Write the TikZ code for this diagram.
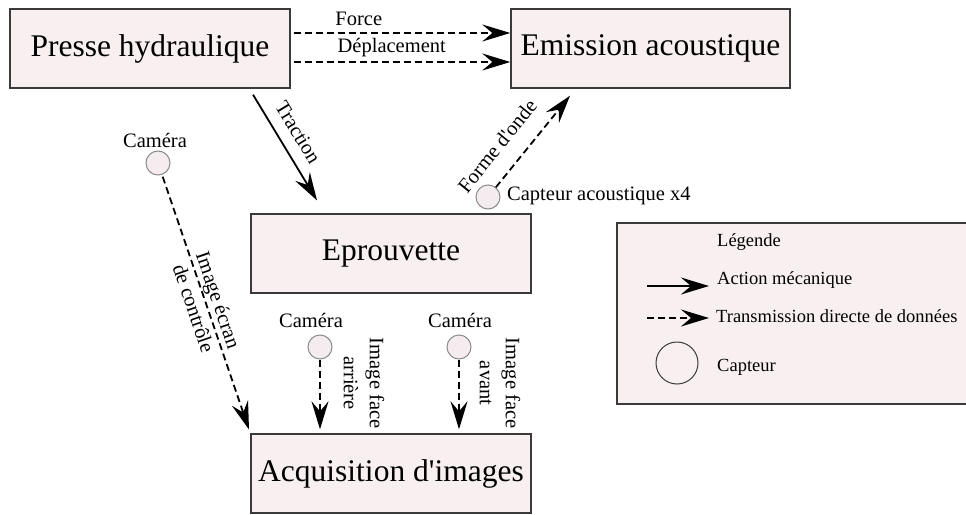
\documentclass[tikz,border=0pt]{standalone}
\usepackage{fontspec}
\setmainfont{Liberation Serif}
\usetikzlibrary{arrows.meta}
\definecolor{boxfill}{HTML}{F8F0F0}
\definecolor{circfill}{HTML}{F4ECEE}
\definecolor{boxline}{HTML}{3A3A3A}
\definecolor{circline}{HTML}{8A8A8A}
\newcommand{\bigtxt}{\fontsize{31.5}{36}\selectfont}
\newcommand{\smalltxt}{\fontsize{20.5}{26}\selectfont}
\newcommand{\legtxt}{\fontsize{18.5}{22}\selectfont}
\begin{document}
\begin{tikzpicture}[x=1pt,y=-1pt,
  box/.style={draw=boxline, line width=1.4pt, fill=boxfill, inner sep=0pt, font=\bigtxt},
  sensor/.style={circle, draw=circline, line width=1pt, fill=circfill, minimum size=24pt, inner sep=0pt},
  mech/.style={line width=1.8pt, -{Stealth[length=28pt,width=17pt,inset=10pt]}},
  data/.style={mech, dash pattern=on 7pt off 4pt},
  lab/.style={font=\smalltxt, align=center, anchor=center, sloped, allow upside down, inner sep=0pt},
  smalllab/.style={font=\smalltxt, inner sep=0pt},
  leglab/.style={font=\legtxt, inner sep=0pt, anchor=west}]
\useasboundingbox (0,0) rectangle (966,514);
\clip (0,0) rectangle (966,514);
% boxes
\node[box, minimum width=280pt, minimum height=79pt] (presse) at (150,48.5) {Presse hydraulique};
\node[box, minimum width=279pt, minimum height=79pt] (emission) at (650.5,48.5) {Emission acoustique};
\node[box, minimum width=280pt, minimum height=79pt] (eprouvette) at (391,253.5) {Eprouvette};
\node[box, minimum width=280pt, minimum height=79pt] (acq) at (391,473.5) {Acquisition d\textquotesingle images};
\node[box, minimum width=351pt, minimum height=181pt] (legend) at (792.5,313.5) {};
% sensors
\node[sensor] (cam1) at (158,163) {};
\node[smalllab] (cam1l) at (155,140) {Caméra};
\node[sensor] (cam2) at (320,347) {};
\node[smalllab] (cam2l) at (311,320) {Caméra};
\node[sensor] (cam3) at (459,347) {};
\node[smalllab] (cam3l) at (460,320) {Caméra};
\node[sensor] (capt) at (488,197) {};
\node[smalllab, anchor=west] (captl) at (507,196) {Capteur acoustique x4};
% connectors
\draw[data, shorten <=3pt] ([yshift=15.5pt]presse.east) -- node[lab, pos=0.31, yshift=14pt] {Force} ([yshift=15.5pt]emission.west);
\draw[data, shorten <=3pt] ([yshift=-13.5pt]presse.east) -- node[lab, pos=0.46, yshift=14pt] {Déplacement} ([yshift=-13.5pt]emission.west);
\draw[mech, shorten <=7pt, shorten >=15pt] ([xshift=99.4pt]presse.south) -- node[lab, pos=0.43, yshift=19pt] {Traction} ([xshift=-66.2pt]eprouvette.north);
\draw[data, shorten <=2pt, shorten >=4pt] (cam1) -- node[lab, pos=0.5] {Image écran\\de contrôle} (acq.north west);
\draw[data, shorten >=4pt] (cam2) -- node[lab, pos=0.32, yshift=44pt] {Image face\\arrière} (cam2 |- acq.north);
\draw[data, shorten >=4pt] (cam3) -- node[lab, pos=0.32, yshift=41pt] {Image face\\avant} (cam3 |- acq.north);
\draw[data, shorten >=9pt] (capt) -- node[lab, pos=0.26, yshift=25pt] {Forme d\textquotesingle onde} ([xshift=-74.8pt]emission.south);
% legend
\node[leglab] (legt) at (717,242) {Légende};
\coordinate (la1) at (647,286);
\coordinate (la2) at (709,286);
\draw[mech] (la1) -- (la2);
\node[leglab] (lmech) at (717,280) {Action mécanique};
\coordinate (ld1) at (647,318);
\coordinate (ld2) at (709,318);
\draw[data] (ld1) -- (ld2);
\node[leglab] (ldata) at (716,316) {Transmission directe de données};
\node[circle, draw=boxline, line width=1pt, minimum size=42pt, inner sep=0pt] (lsens) at (677,363) {};
\node[leglab] (lcap) at (717,367) {Capteur};
\end{tikzpicture}
\end{document}
